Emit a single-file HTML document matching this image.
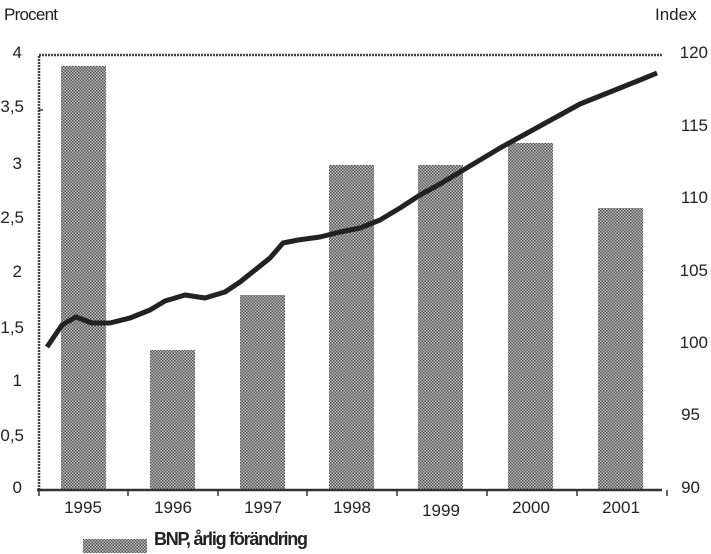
<!DOCTYPE html>
<html><head><style>body{margin:0;background:#fff}svg{display:block}</style></head><body>
<svg width="711" height="554" viewBox="0 0 711 554" xmlns="http://www.w3.org/2000/svg" font-family="Liberation Sans Narrow, Liberation Sans, sans-serif" fill="#222">
<defs><pattern id="p" width="3" height="3" patternUnits="userSpaceOnUse"><rect width="3" height="3" fill="#bdbdbd"/><rect width="1.5" height="1.5" fill="#555"/><rect x="1.5" y="1.5" width="1.5" height="1.5" fill="#555"/></pattern></defs>
<text x="4" y="20" font-size="17" textLength="54">Procent</text>
<text x="655" y="20" font-size="17">Index</text>
<g font-size="17" text-anchor="end">
<text x="22" y="58">4</text><text x="24" y="112">3,5</text><text x="22" y="169">3</text><text x="24" y="223">2,5</text><text x="22" y="277">2</text><text x="24" y="333">1,5</text><text x="22" y="386">1</text><text x="24" y="441">0,5</text><text x="22" y="493">0</text>
</g>
<g font-size="17" text-anchor="end">
<text x="708" y="58">120</text><text x="708" y="131">115</text><text x="708" y="203">110</text><text x="708" y="276">105</text><text x="708" y="348">100</text><text x="700" y="420">95</text><text x="700" y="493">90</text>
</g>
<g fill="url(#p)">
<rect x="61" y="66" width="45" height="424"/><rect x="150" y="350" width="45" height="140"/><rect x="240" y="295" width="45" height="195"/><rect x="329" y="165" width="45" height="325"/><rect x="418" y="165" width="45" height="325"/><rect x="508" y="143" width="45" height="347"/><rect x="598" y="208" width="45" height="282"/>
</g>
<path d="M39 490V55H662" fill="none" stroke="#444" stroke-width="2.5" stroke-dasharray="2 1"/>
<path d="M37 490H662" stroke="#333" stroke-width="2.5"/>
<g stroke="#333" stroke-width="1.5"><path d="M39 490v6M128 490v6M218 490v6M307 490v6M397 490v6M487 490v6M577 490v6M667 490v6M39 110h4"/></g>
<g font-size="17" text-anchor="middle">
<text x="83" y="513">1995</text><text x="173" y="513">1996</text><text x="263" y="513">1997</text><text x="352" y="513">1998</text><text x="441" y="516">1999</text><text x="531" y="513">2000</text><text x="621" y="513">2001</text>
</g>
<polyline fill="none" stroke="#222" stroke-width="5" stroke-linejoin="round" points="47,347 62,325 76,317 92,323 110,323 130,318 150,310 165,301 185,295 205,298 225,292 240,282 255,270 270,258 283,243 298,240 320,237 340,232 360,228 380,220 400,208 420,195 440,184 460,172 480,160 500,148 520,137 540,126 560,115 580,104 600,96 620,88 640,80 657,73"/>
<rect x="83" y="539" width="64" height="14" fill="url(#p)"/>
<text x="154" y="545" font-size="18" font-weight="bold" textLength="154">BNP, årlig förändring</text>
</svg>
</body></html>
